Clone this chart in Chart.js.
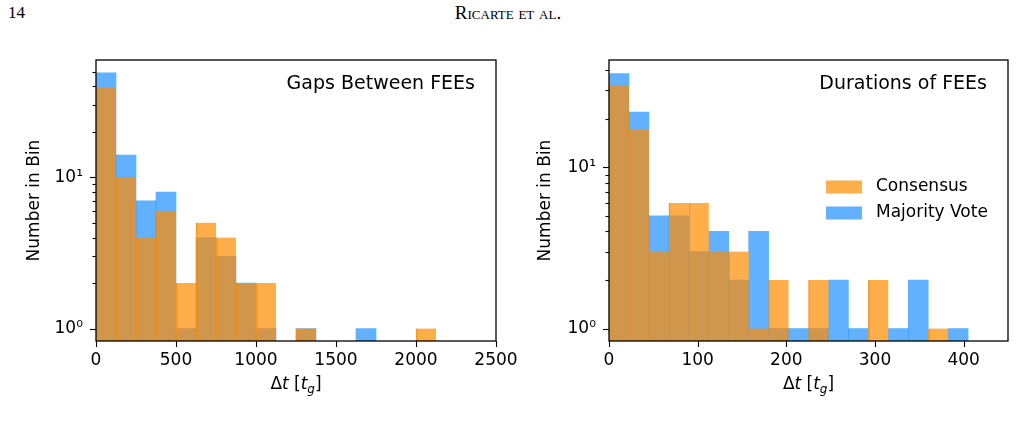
<!DOCTYPE html>
<html>
<head>
<meta charset="utf-8">
<script src="https://cdn.jsdelivr.net/npm/chart.js@4.4.0/dist/chart.umd.min.js"></script>
<style>
  body { margin:0; background:#fff; width:1016px; height:444px; position:relative; overflow:hidden; }
  canvas { position:absolute; top:0; }
  #pageNum { position:absolute; left:8px; top:3px; font:17px "Liberation Serif"; color:#000; }
  #runHead { position:absolute; left:0; width:1016px; top:2px; text-align:center; font:19px "Liberation Serif"; font-variant:small-caps; color:#000; }
</style>
</head>
<body>
<div id="pageNum">14</div>
<div id="runHead">Ricarte et al.</div>
<canvas id="gaps" width="540" height="444" style="left:0"></canvas>
<canvas id="durs" width="508" height="444" style="left:508px"></canvas>
<script>
// gaps between FEEs, bins of 125 t_g (left edges)
const gapBinStarts = [0,125,250,375,500,625,750,875,1000,1125,1250,1375,1500,1625,1750,1875,2000];
const gapBinWidth = 125;
const gapConsensus = [39,10,4,6,2,5,4,2,2,null,1,null,null,null,null,null,1];
const gapMajority  = [49,14,7,8,1,4,3,2,1,null,1,null,null,1,null,null,null];

// durations of FEEs, bins of 22.5 t_g (left edges)
const durBinStarts = [0,22.5,45,67.5,90,112.5,135,157.5,180,202.5,225,247.5,270,292.5,315,337.5,360,382.5];
const durBinWidth = 22.5;
const durConsensus = [32,17,3,6,6,3,3,1,2,null,2,null,null,2,null,null,1,null];
const durMajority  = [38,22,5,5,3,4,2,4,1,1,1,2,1,null,1,2,null,1];

const gapXTicks = [0,500,1000,1500,2000,2500];
const durXTicks = [0,100,200,300,400];
const logTicks = [1,2,3,4,5,6,7,8,9,10,20,30,40,50];
const logLabels = {1:'10⁰', 10:'10¹'};

const orange = 'rgba(255,140,0,0.7)';
const blue = 'rgba(30,144,255,0.7)';
const FONT = 'DejaVu Sans';

const panelPlugin = {
  id: 'panel',
  afterDraw(chart, args, o) {
    const {ctx, chartArea: a} = chart;
    const xs = chart.scales.x, ys = chart.scales.y;
    ctx.save();
    ctx.strokeStyle = '#000';
    ctx.lineWidth = 1.1;
    ys.ticks.forEach(t => {
      const y = Math.round(ys.getPixelForValue(t.value)) + 0.5;
      const len = logLabels[t.value] ? 6 : 3.5;
      ctx.beginPath(); ctx.moveTo(a.left - len, y); ctx.lineTo(a.left, y); ctx.stroke();
    });
    xs.ticks.forEach(t => {
      const x = Math.round(xs.getPixelForValue(t.value)) + 0.5;
      ctx.beginPath(); ctx.moveTo(x, a.bottom); ctx.lineTo(x, a.bottom + 6); ctx.stroke();
    });
    ctx.lineWidth = 1.3;
    ctx.strokeRect(a.left, a.top, a.right - a.left, a.bottom - a.top);

    ctx.fillStyle = '#000';
    ctx.font = '19px "' + FONT + '"';
    ctx.textAlign = 'right';
    ctx.textBaseline = 'middle';
    ctx.fillText(o.label, a.right - 21, a.top + 24);

    // x axis label: Δt [t_g]
    const parts = [
      ['Δ', '17px "' + FONT + '"', 0],
      ['t', 'oblique 17px "' + FONT + '"', 0],
      [' [', '17px "' + FONT + '"', 0],
      ['t', 'oblique 17px "' + FONT + '"', 0],
      ['g', 'oblique 12px "' + FONT + '"', 4],
      [']', '17px "' + FONT + '"', 0]
    ];
    let w = 0;
    parts.forEach(p => { ctx.font = p[1]; w += ctx.measureText(p[0]).width; });
    let x = (a.left + a.right) / 2 - w / 2;
    ctx.textAlign = 'left';
    ctx.textBaseline = 'alphabetic';
    parts.forEach(p => {
      ctx.font = p[1];
      ctx.fillText(p[0], x, 389 + p[2]);
      x += ctx.measureText(p[0]).width;
    });

    if (o.legend) {
      ctx.font = '17px "' + FONT + '"';
      ctx.textBaseline = 'middle';
      chart.data.datasets.forEach((ds, i) => {
        const cy = a.top + 127 + i * 26;
        ctx.fillStyle = ds.backgroundColor;
        ctx.fillRect(a.right - 182, cy - 6.5, 36, 13);
        ctx.fillStyle = '#000';
        ctx.fillText(ds.label, a.right - 132, cy);
      });
    }
    ctx.restore();
  }
};

function makePanel(id, starts, width, cons, maj, xMax, xTicks, yMin, yMax, yAxisWidth, titlePad, label, legend, padRight) {
  const toPoints = arr => starts.map((s, i) => ({x: s + width / 2, y: arr[i]}));
  return new Chart(document.getElementById(id), {
    type: 'bar',
    data: {
      datasets: [
        {label: 'Consensus', data: toPoints(cons), backgroundColor: orange,
         borderColor: 'rgba(255,140,0,0.85)', borderWidth: {left: 1, right: 0, top: 0, bottom: 0}, borderSkipped: false},
        {label: 'Majority Vote', data: toPoints(maj), backgroundColor: blue, borderWidth: 0}
      ]
    },
    options: {
      responsive: false,
      animation: false,
      layout: {padding: {top: 60, left: 0, right: padRight, bottom: 0}},
      datasets: {bar: {barPercentage: 1, categoryPercentage: 1, grouped: false}},
      plugins: {legend: {display: false}, tooltip: {enabled: false}, panel: {label: label, legend: legend}},
      scales: {
        x: {
          type: 'linear', min: 0, max: xMax, offset: false,
          afterBuildTicks: s => { s.ticks = xTicks.map(v => ({value: v})); },
          afterFit: s => { s.height = 103; s.paddingLeft = 0; s.paddingRight = 0; },
          grid: {display: false, drawTicks: false, offset: false},
          border: {display: false},
          ticks: {autoSkip: false, maxRotation: 0, padding: 9, color: '#000',
                  font: {family: FONT, size: 17}, callback: v => String(v)}
        },
        y: {
          type: 'logarithmic', min: yMin, max: yMax,
          afterBuildTicks: s => { s.ticks = logTicks.filter(v => v <= yMax).map(v => ({value: v})); },
          afterFit: s => { s.width = yAxisWidth; s.paddingTop = 0; s.paddingBottom = 0; },
          grid: {display: false, drawTicks: false},
          border: {display: false},
          ticks: {autoSkip: false, padding: 13, color: '#000',
                  font: {family: FONT, size: 17}, callback: v => logLabels[v] || ''},
          title: {display: true, text: 'Number in Bin', color: '#000',
                  font: {family: FONT, size: 17}, padding: {top: titlePad, bottom: 0}}
        }
      }
    },
    plugins: [panelPlugin]
  });
}

makePanel('gaps', gapBinStarts, gapBinWidth, gapConsensus, gapMajority, 2500, gapXTicks, 0.828, 59.6, 96, 24.8, 'Gaps Between FEEs', false, 44);
makePanel('durs', durBinStarts, durBinWidth, durConsensus, durMajority, 450, durXTicks, 0.837, 46.2, 101, 27.8, 'Durations of FEEs', true, 8);
</script>
</body>
</html>
